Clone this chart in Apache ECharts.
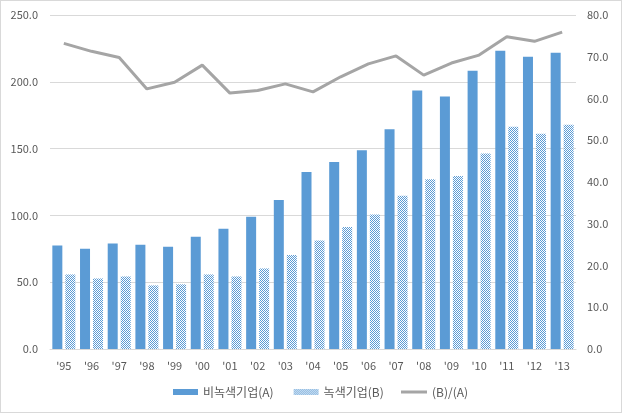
<!DOCTYPE html>
<html>
<head>
<meta charset="utf-8">
<script src="https://cdn.jsdelivr.net/npm/echarts@6/dist/echarts.min.js"></script>
<style>
html,body{margin:0;padding:0;background:#fff;}
#c{width:622px;height:413px;box-sizing:border-box;border:1px solid #d9d9d9;}
</style>
</head>
<body>
<div id="c"></div>
<script>
const categories = ["'95","'96","'97","'98","'99","'00","'01","'02","'03","'04","'05","'06","'07","'08","'09","'10","'11","'12","'13"];
const nonGreen = [77.4,75.1,78.9,78.1,76.6,84.1,90.0,99.0,111.6,132.4,139.9,148.8,164.4,193.5,189.0,208.3,223.2,218.8,221.7];
const green = [55.8,52.8,54.3,47.6,48.4,55.8,54.3,60.3,70.4,81.3,91.3,100.7,114.8,127.0,129.5,146.3,166.4,161.2,167.9];
const ratio = [73.2,71.3,69.8,62.3,63.9,68.0,61.3,61.9,63.5,61.6,65.2,68.3,70.2,65.6,68.5,70.4,74.8,73.7,75.9];
const names = ['비녹색기업(A)','녹색기업(B)','(B)/(A)'];

const cv = document.createElement('canvas');
cv.width = 2; cv.height = 2;
const cx = cv.getContext('2d');
cx.fillStyle = '#ffffff'; cx.fillRect(0,0,2,2);
cx.fillStyle = '#5b9bd5'; cx.fillRect(0,0,1,1); cx.fillRect(1,1,1,1);
const pattern = {image: cv, repeat: 'repeat'};

const font = "'Noto Sans CJK KR','Noto Sans',sans-serif";
const legendText = {color: '#595959', fontSize: 12, fontFamily: font};
const chart = echarts.init(document.getElementById('c'), null, {renderer:'canvas'});
chart.setOption({
  animation: false,
  textStyle: {fontFamily: font},
  grid: {left: 49, right: 45, top: 14, bottom: 63, containLabel: false},
  legend: [
    {left: 167, bottom: 9, itemWidth: 25, itemHeight: 6, itemGap: 20, textStyle: legendText,
     data: [{name: names[0], icon: 'rect'}, {name: names[1], icon: 'rect'}]},
    {left: 395, bottom: 9, itemWidth: 26, itemHeight: 3, textStyle: legendText,
     data: [{name: names[2], icon: 'rect'}]}
  ],
  xAxis: {
    type: 'category', data: categories,
    axisLine: {lineStyle: {color: '#d9d9d9'}},
    axisTick: {show: false},
    axisLabel: {color: '#595959', fontSize: 11, margin: 11}
  },
  yAxis: [
    {type: 'value', min: 0, max: 250, interval: 50,
     axisLabel: {color: '#595959', fontSize: 11, margin: 12, formatter: v => v.toFixed(1)},
     splitLine: {lineStyle: {color: '#d9d9d9'}}, axisLine: {show: false}, axisTick: {show: false}},
    {type: 'value', min: 0, max: 80, interval: 10, position: 'right',
     axisLabel: {color: '#595959', fontSize: 11, margin: 11, formatter: v => v.toFixed(1)},
     splitLine: {show: false}, axisLine: {show: false}, axisTick: {show: false}}
  ],
  series: [
    {name: names[0], type: 'bar', data: nonGreen, barWidth: 10, barGap: '30%', itemStyle: {color: '#5b9bd5'}},
    {name: names[1], type: 'bar', data: green, barWidth: 10, itemStyle: {color: pattern}},
    {name: names[2], type: 'line', yAxisIndex: 1, data: ratio, symbol: 'none', showSymbol: false,
     lineStyle: {color: '#a5a5a5', width: 3}, itemStyle: {color: '#a5a5a5'}}
  ]
});
</script>
</body>
</html>
